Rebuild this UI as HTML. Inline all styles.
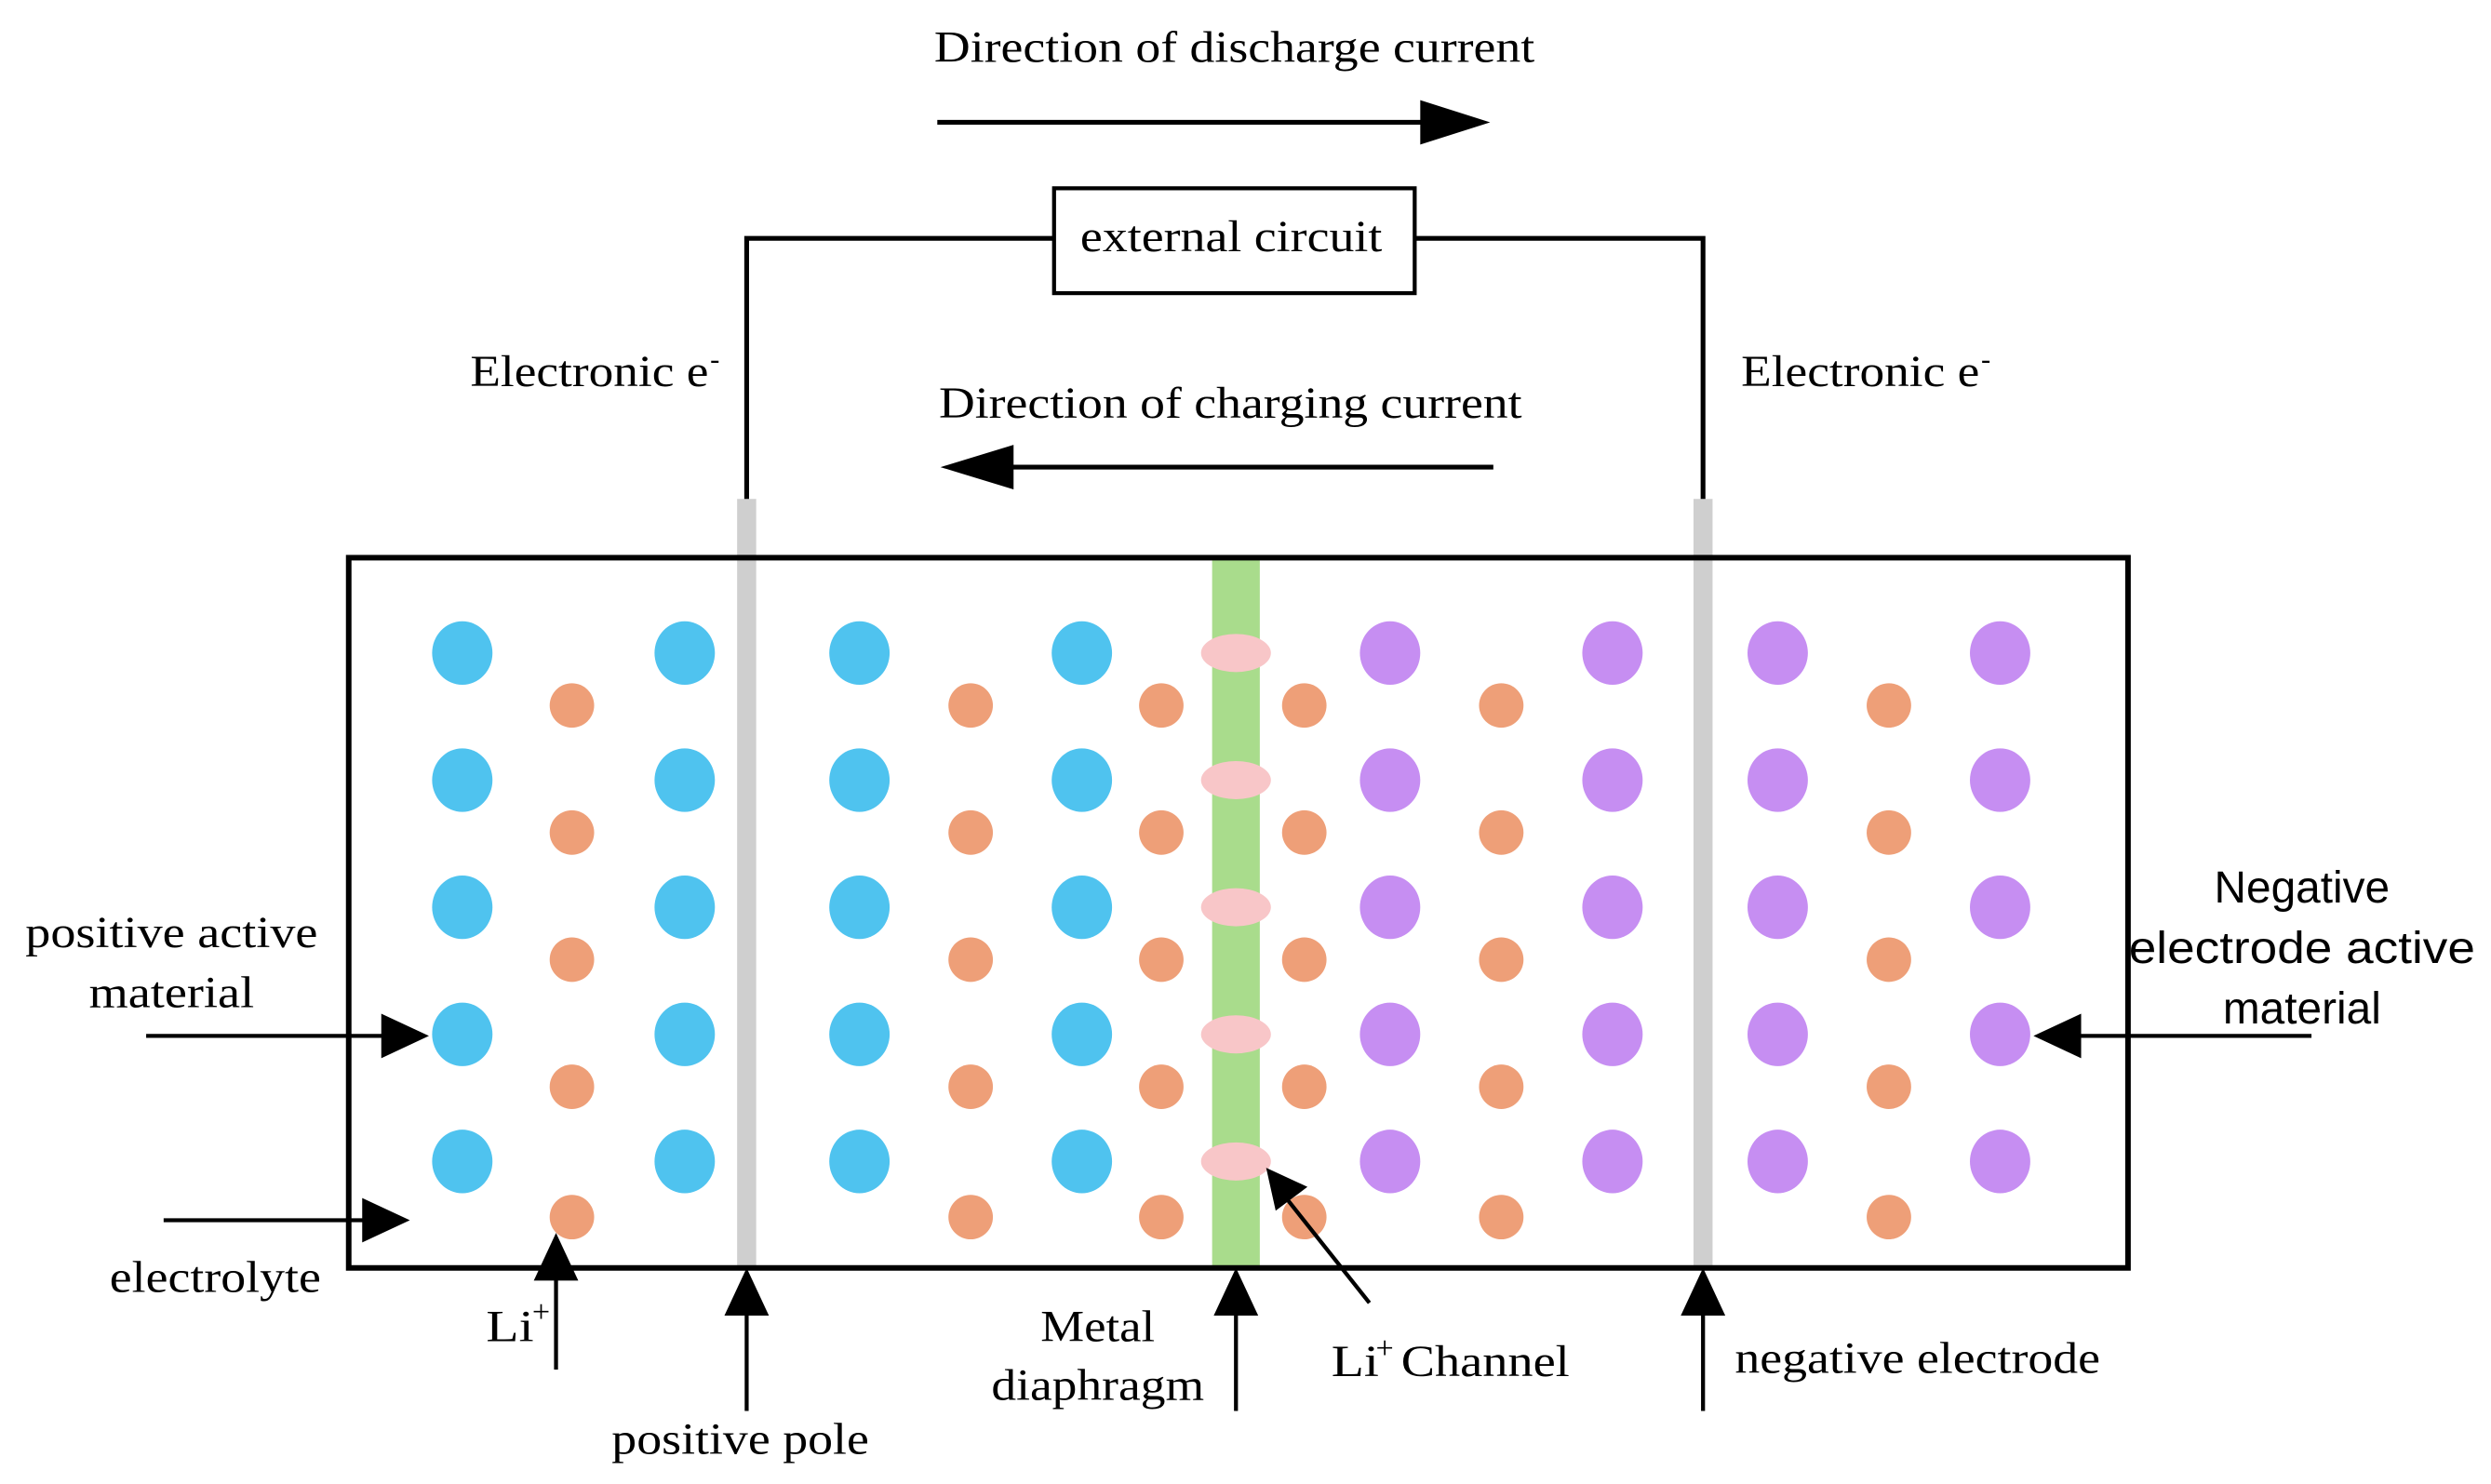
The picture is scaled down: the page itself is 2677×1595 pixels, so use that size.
<!DOCTYPE html>
<html><head><meta charset="utf-8"><style>html,body{margin:0;padding:0;background:#fff}svg{display:block}</style></head>
<body>
<svg width="2677" height="1595" viewBox="0 0 1568 934" preserveAspectRatio="none" xmlns="http://www.w3.org/2000/svg">
<defs>
<g id="b"><ellipse rx="19" ry="20" fill="#4fc3ef"/></g>
<g id="p"><ellipse rx="19" ry="20" fill="#c68ef2"/></g>
<g id="o"><ellipse rx="14" ry="14" fill="#ee9f78"/></g>
</defs>
<rect width="1568" height="934" fill="#fff"/>
<!-- circuit -->
<polyline points="470,316 470,150 663,150" fill="none" stroke="#000" stroke-width="3"/>
<polyline points="890,150 1072,150 1072,316" fill="none" stroke="#000" stroke-width="3"/>
<rect x="663.5" y="118.5" width="227" height="66" fill="#fff" stroke="#000" stroke-width="2.5"/>
<g font-family="Liberation Serif, serif" font-size="28" fill="#000">
<text x="588" y="39" textLength="378" lengthAdjust="spacingAndGlyphs">Direction of discharge current</text>
<text x="680" y="158" textLength="190" lengthAdjust="spacingAndGlyphs">external circuit</text>
<text x="296" y="243" textLength="150" lengthAdjust="spacingAndGlyphs">Electronic e</text>
<text x="447" y="232" font-size="18">-</text>
<text x="1096" y="243" textLength="150" lengthAdjust="spacingAndGlyphs">Electronic e</text>
<text x="1247" y="232" font-size="18">-</text>
<text x="591" y="263" textLength="367" lengthAdjust="spacingAndGlyphs">Direction of charging current</text>
<text x="16" y="596" textLength="184" lengthAdjust="spacingAndGlyphs">positive active</text>
<text x="56" y="634" textLength="104" lengthAdjust="spacingAndGlyphs">material</text>
<text x="69" y="813" textLength="133" lengthAdjust="spacingAndGlyphs">electrolyte</text>
<text x="306" y="844" textLength="30" lengthAdjust="spacingAndGlyphs">Li</text>
<text x="335" y="832" font-size="20">+</text>
<text x="385" y="915" textLength="162" lengthAdjust="spacingAndGlyphs">positive pole</text>
<text x="655" y="844" textLength="72" lengthAdjust="spacingAndGlyphs">Metal</text>
<text x="624" y="881" textLength="134" lengthAdjust="spacingAndGlyphs">diaphragm</text>
<text x="838" y="866" textLength="30" lengthAdjust="spacingAndGlyphs">Li</text>
<text x="866" y="855" font-size="20">+</text>
<text x="882" y="866" textLength="106" lengthAdjust="spacingAndGlyphs">Channel</text>
<text x="1092" y="864" textLength="230" lengthAdjust="spacingAndGlyphs">negative electrode</text>
</g>
<g font-family="Liberation Sans, sans-serif" font-size="28" fill="#000" text-anchor="middle">
<text x="1449" y="568">Negative</text>
<text x="1449" y="606" textLength="218" lengthAdjust="spacingAndGlyphs">electrode active</text>
<text x="1449" y="644">material</text>
</g>
<!-- arrows top -->
<line x1="590" y1="77" x2="898" y2="77" stroke="#000" stroke-width="3"/>
<polygon points="894,63 938,77 894,91" fill="#000"/>
<line x1="636" y1="294" x2="940" y2="294" stroke="#000" stroke-width="3"/>
<polygon points="638,280 592,294 638,308" fill="#000"/>
<!-- electrodes -->
<rect x="464" y="314" width="12" height="484" fill="#cfcfcf"/>
<rect x="1066" y="314" width="12" height="484" fill="#cfcfcf"/>
<rect x="763" y="350" width="30" height="448" fill="#a9dc8c"/>
<g fill="#f8c6c8">
<ellipse cx="778" cy="411" rx="22" ry="12"/><ellipse cx="778" cy="491" rx="22" ry="12"/><ellipse cx="778" cy="571" rx="22" ry="12"/><ellipse cx="778" cy="651" rx="22" ry="12"/><ellipse cx="778" cy="731" rx="22" ry="12"/>
</g>
<g>
<use href="#b" x="291" y="411"/><use href="#b" x="291" y="491"/><use href="#b" x="291" y="571"/><use href="#b" x="291" y="651"/><use href="#b" x="291" y="731"/>
<use href="#b" x="431" y="411"/><use href="#b" x="431" y="491"/><use href="#b" x="431" y="571"/><use href="#b" x="431" y="651"/><use href="#b" x="431" y="731"/>
<use href="#b" x="541" y="411"/><use href="#b" x="541" y="491"/><use href="#b" x="541" y="571"/><use href="#b" x="541" y="651"/><use href="#b" x="541" y="731"/>
<use href="#b" x="681" y="411"/><use href="#b" x="681" y="491"/><use href="#b" x="681" y="571"/><use href="#b" x="681" y="651"/><use href="#b" x="681" y="731"/>
<use href="#p" x="875" y="411"/><use href="#p" x="875" y="491"/><use href="#p" x="875" y="571"/><use href="#p" x="875" y="651"/><use href="#p" x="875" y="731"/>
<use href="#p" x="1015" y="411"/><use href="#p" x="1015" y="491"/><use href="#p" x="1015" y="571"/><use href="#p" x="1015" y="651"/><use href="#p" x="1015" y="731"/>
<use href="#p" x="1119" y="411"/><use href="#p" x="1119" y="491"/><use href="#p" x="1119" y="571"/><use href="#p" x="1119" y="651"/><use href="#p" x="1119" y="731"/>
<use href="#p" x="1259" y="411"/><use href="#p" x="1259" y="491"/><use href="#p" x="1259" y="571"/><use href="#p" x="1259" y="651"/><use href="#p" x="1259" y="731"/>
<use href="#o" x="360" y="444"/><use href="#o" x="360" y="524"/><use href="#o" x="360" y="604"/><use href="#o" x="360" y="684"/><use href="#o" x="360" y="766"/>
<use href="#o" x="611" y="444"/><use href="#o" x="611" y="524"/><use href="#o" x="611" y="604"/><use href="#o" x="611" y="684"/><use href="#o" x="611" y="766"/>
<use href="#o" x="731" y="444"/><use href="#o" x="731" y="524"/><use href="#o" x="731" y="604"/><use href="#o" x="731" y="684"/><use href="#o" x="731" y="766"/>
<use href="#o" x="821" y="444"/><use href="#o" x="821" y="524"/><use href="#o" x="821" y="604"/><use href="#o" x="821" y="684"/><use href="#o" x="821" y="766"/>
<use href="#o" x="945" y="444"/><use href="#o" x="945" y="524"/><use href="#o" x="945" y="604"/><use href="#o" x="945" y="684"/><use href="#o" x="945" y="766"/>
<use href="#o" x="1189" y="444"/><use href="#o" x="1189" y="524"/><use href="#o" x="1189" y="604"/><use href="#o" x="1189" y="684"/><use href="#o" x="1189" y="766"/>
</g>
<rect x="219.5" y="351" width="1120" height="447" fill="none" stroke="#000" stroke-width="3.5"/>
<!-- label arrows -->
<g stroke="#000" stroke-width="2.5">
<line x1="92" y1="652" x2="244" y2="652"/>
<line x1="103" y1="768" x2="232" y2="768"/>
<line x1="1455" y1="652" x2="1306" y2="652"/>
<line x1="350" y1="862" x2="350" y2="800"/>
<line x1="470" y1="888" x2="470" y2="826"/>
<line x1="778" y1="888" x2="778" y2="826"/>
<line x1="1072" y1="888" x2="1072" y2="826"/>
<line x1="862" y1="820" x2="808" y2="752"/>
</g>
<g fill="#000">
<polygon points="240,638 270,652 240,666"/>
<polygon points="228,754 258,768 228,782"/>
<polygon points="1310,638 1280,652 1310,666"/>
<polygon points="336,806 350,776 364,806"/>
<polygon points="456,828 470,798 484,828"/>
<polygon points="764,828 778,798 792,828"/>
<polygon points="1058,828 1072,798 1086,828"/>
<polygon points="797,735 823,747 803,762"/>
</g>
</svg>
</body></html>
